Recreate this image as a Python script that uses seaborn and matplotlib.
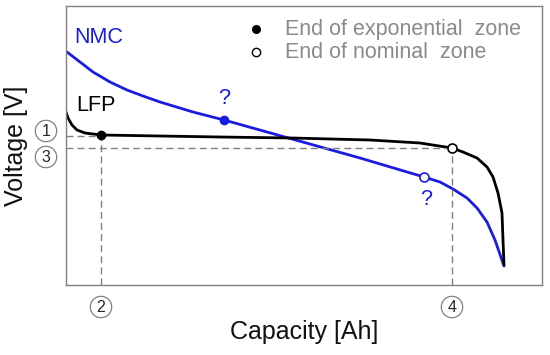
import matplotlib
matplotlib.use("Agg")
import matplotlib.pyplot as plt
import seaborn as sns
import pandas as pd

sns.set_style("white")
plt.rcParams['font.family'] = ['Liberation Sans', 'DejaVu Sans']

# NMC discharge curve (capacity, voltage) in arbitrary units
nmc_cap = [0.1, 1.4, 2.7, 4.4, 6.1, 7.7, 9.4, 12.7, 15.8, 22.6, 29.4, 35.8, 37.4, 38.7, 40.1, 41.1, 42.1, 42.9, 43.8]
nmc_v = [2.33, 2.23, 2.13, 2.03, 1.95, 1.89, 1.83, 1.73, 1.65, 1.46, 1.27, 1.08, 1.03, 0.96, 0.87, 0.77, 0.63, 0.45, 0.19]

# LFP discharge curve
lfp_cap = [0.0, 0.2, 0.6, 1.1, 1.9, 3.5, 9.4, 15.4, 22.6, 30.4, 35.4, 38.6, 39.7, 41.1, 42.1, 42.7, 43.2, 43.6, 43.7, 43.8]
lfp_v = [1.73, 1.67, 1.60, 1.55, 1.52, 1.50, 1.49, 1.48, 1.47, 1.45, 1.42, 1.37, 1.33, 1.27, 1.18, 1.08, 0.92, 0.72, 0.45, 0.20]

# Characteristic points
exp_pts_cap = [3.5, 15.8]
exp_pts_v = [1.50, 1.65]
nom_pts_cap = [38.6, 35.8]
nom_pts_v = [1.37, 1.08]

df = pd.DataFrame({
    "cap": nmc_cap + lfp_cap,
    "v": nmc_v + lfp_v,
    "cell": ["NMC"] * len(nmc_cap) + ["LFP"] * len(lfp_cap),
})

fig = plt.figure(figsize=(5.5, 3.55), dpi=100)
ax = fig.add_axes([66/550, 1 - 285/355, 476/550, 279/355])

blue = "#1c1ce0"
sns.lineplot(data=df, x="cap", y="v", hue="cell", palette={"NMC": blue, "LFP": "black"},
             linewidth=2, legend=False, ax=ax, sort=False, estimator=None,
             solid_joinstyle="round", solid_capstyle="round")

ax.set_xlim(0, 47.6)
ax.set_ylim(0, 2.79)

dash = dict(color="#808080", lw=1, ls=(0, (5, 3)))
# dashed guide lines
ax.plot([0, exp_pts_cap[0]], [exp_pts_v[0] - 0.01, exp_pts_v[0] - 0.01], **dash)
ax.plot([exp_pts_cap[0], exp_pts_cap[0]], [0, exp_pts_v[0]], **dash)
ax.plot([0, nom_pts_cap[0]], [nom_pts_v[0], nom_pts_v[0]], **dash)
ax.plot([nom_pts_cap[0], nom_pts_cap[0]], [0, nom_pts_v[0]], **dash)

# markers
ax.plot(exp_pts_cap[0], exp_pts_v[0], "o", color="black", ms=6, zorder=5)
ax.plot(exp_pts_cap[1], exp_pts_v[1], "o", color=blue, ms=6, zorder=5)
ax.plot(nom_pts_cap[0], nom_pts_v[0], "o", mfc="white", mec="black", mew=1.2, ms=6.5, zorder=5)
ax.plot(nom_pts_cap[1], nom_pts_v[1], "o", mfc="white", mec=blue, mew=1.2, ms=6.5, zorder=5)

# curve labels
ax.text(0.85, 2.48, "NMC", color=blue, fontsize=15.5, ha="left", va="center")
ax.text(1.0, 1.80, "LFP", color="black", fontsize=15.5, ha="left", va="center")
ax.text(15.8, 1.87, "?", color=blue, fontsize=15.5, ha="center", va="center")
ax.text(36.0, 0.86, "?", color=blue, fontsize=15.5, ha="center", va="center")

# legend-like annotations
ax.plot(19.0, 2.56, "o", color="black", ms=5.5)
ax.plot(19.0, 2.33, "o", mfc="white", mec="black", mew=1, ms=6)
ax.text(21.9, 2.56, "End of exponential  zone", color="#8a8a8a", fontsize=15.5, ha="left", va="center")
ax.text(21.9, 2.33, "End of nominal  zone", color="#8a8a8a", fontsize=15.5, ha="left", va="center")

# circled numbers
circ = dict(boxstyle="circle,pad=0.2", fc="white", ec="#808080", lw=0.9)
for xx, yy, s in [(-2.0, 1.54, "1"), (-2.0, 1.28, "3"), (3.5, -0.22, "2"), (38.6, -0.22, "4")]:
    ax.text(xx, yy, s, fontsize=11.5, ha="center", va="center", bbox=circ, clip_on=False)

ax.set_xticks([])
ax.set_yticks([])
for sp in ax.spines.values():
    sp.set_color("#808080")
    sp.set_linewidth(1)

ax.set_xlabel("Capacity [Ah]", fontsize=18, labelpad=25, color="#111111")
ax.set_ylabel("Voltage [V]", fontsize=18, labelpad=27, color="#111111")

fig.savefig("out.png", dpi=100)
